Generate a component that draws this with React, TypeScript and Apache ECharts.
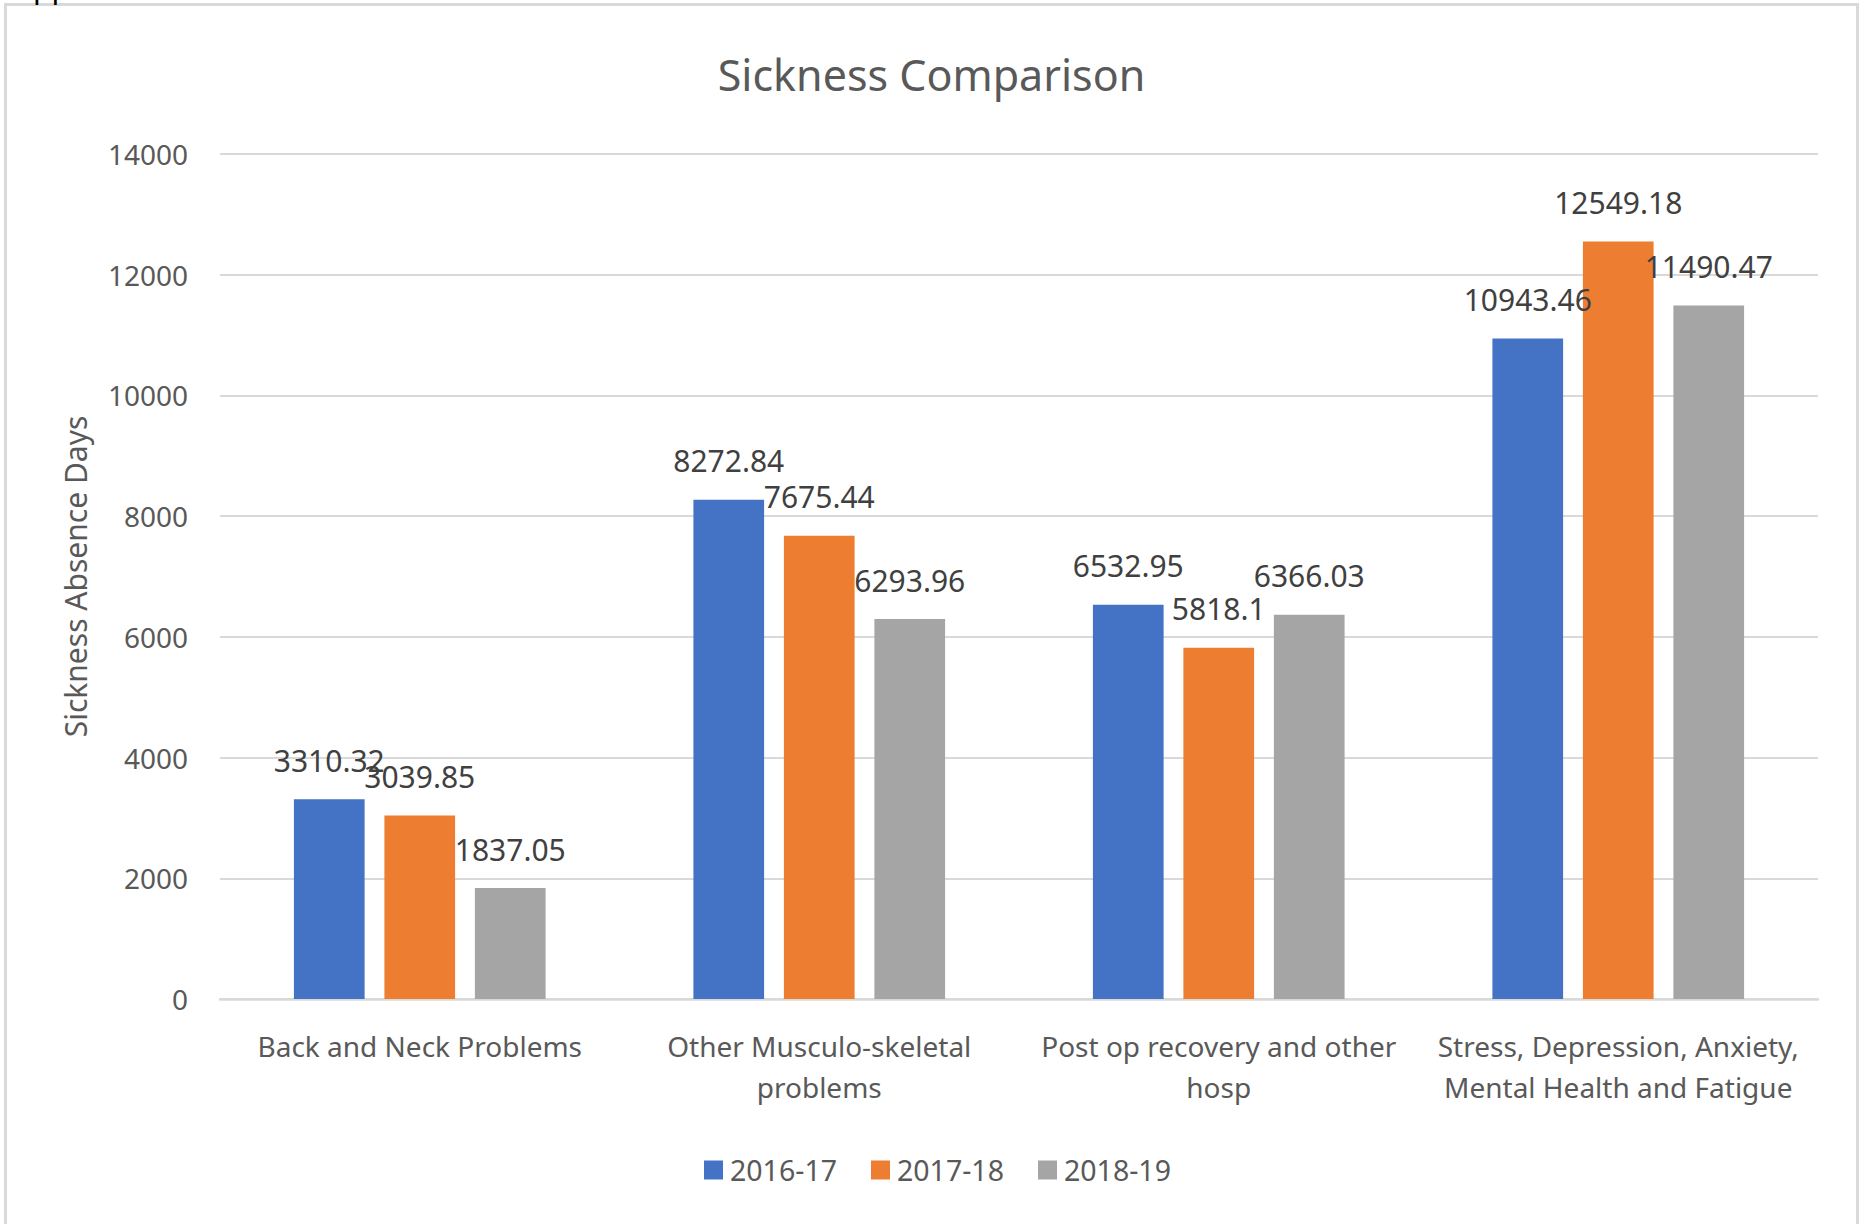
import { useEffect, useRef } from 'react';
import * as echarts from 'echarts';

// Sickness absence days by reason, per financial year
const categories = [
  'Back and Neck Problems',
  'Other Musculo-skeletal\nproblems',
  'Post op recovery and other\nhosp',
  'Stress, Depression, Anxiety,\nMental Health and Fatigue',
];
const yearNames = ['2016-17', '2017-18', '2018-19'];
const values2016 = [3310.32, 8272.84, 6532.95, 10943.46];
const values2017 = [3039.85, 7675.44, 5818.1, 12549.18];
const values2018 = [1837.05, 6293.96, 6366.03, 11490.47];
const yMin = 0;
const yMax = 14000;
const yStep = 2000;

const yearColors = ['#4472C4', '#ED7D31', '#A5A5A5'];
const FONT = '"Noto Sans", "Open Sans", sans-serif';
const TEXT = '#595959';
const GRID = '#D9D9D9';

export default function App() {
  const ref = useRef<HTMLDivElement>(null);

  useEffect(() => {
    if (!ref.current) return;
    const chart = echarts.init(ref.current, undefined, { renderer: 'svg' });
    const seriesValues = [values2016, values2017, values2018];

    chart.setOption({
      animation: false,
      backgroundColor: '#ffffff',
      textStyle: { fontFamily: FONT },
      title: {
        text: 'Sickness Comparison',
        left: 'center',
        top: 49,
        padding: 0,
        textStyle: {
          fontFamily: FONT,
          fontSize: 43,
          fontWeight: 'normal',
          color: TEXT,
          lineHeight: 50,
        },
      },
      legend: {
        data: yearNames,
        left: 704,
        top: 1155,
        padding: 0,
        itemWidth: 19,
        itemHeight: 19,
        itemGap: 34,
        icon: 'rect',
        textStyle: {
          fontFamily: FONT,
          fontSize: 28.5,
          color: TEXT,
          lineHeight: 30,
          padding: [0, 0, 0, 2],
        },
      },
      grid: { left: 220, right: 45, top: 154, bottom: 225, containLabel: false },
      xAxis: {
        type: 'category',
        data: categories,
        axisLine: { lineStyle: { color: GRID, width: 2.5 } },
        axisTick: { show: false },
        axisLabel: {
          interval: 0,
          margin: 26,
          fontFamily: FONT,
          fontSize: 28,
          lineHeight: 41,
          color: TEXT,
        },
      },
      yAxis: {
        type: 'value',
        min: yMin,
        max: yMax,
        interval: yStep,
        name: 'Sickness Absence Days',
        nameLocation: 'middle',
        nameGap: 130,
        nameTextStyle: { fontFamily: FONT, fontSize: 30, color: TEXT },
        axisLine: { show: false },
        axisTick: { show: false },
        splitLine: { lineStyle: { color: GRID, width: 2 } },
        axisLabel: {
          margin: 32,
          fontFamily: FONT,
          fontSize: 28,
          color: TEXT,
          formatter: (v: number) => String(v),
        },
      },
      series: yearNames.map((name, i) => ({
        name,
        type: 'bar',
        data: seriesValues[i],
        barGap: '28%',
        barCategoryGap: '37%',
        itemStyle: { color: yearColors[i] },
        label: {
          show: true,
          position: 'top',
          distance: 24,
          fontFamily: FONT,
          fontSize: 30,
          color: '#404040',
          formatter: '{c}',
        },
      })),
      graphic: [
        {
          type: 'rect',
          silent: true,
          shape: { x: 5.5, y: 4.5, width: 1852, height: 1300 },
          style: { fill: 'none', stroke: GRID, lineWidth: 3 },
        },
        {
          type: 'text',
          silent: true,
          x: 33,
          y: -14,
          style: {
            text: 'pp',
            font: '30px "Noto Sans", sans-serif',
            fill: '#000000',
            verticalAlign: 'middle',
          },
        },
      ],
    });

    return () => chart.dispose();
  }, []);

  return (
    <div
      ref={ref}
      style={{ position: 'absolute', left: 0, top: 0, width: 1863, height: 1224 }}
    />
  );
}
